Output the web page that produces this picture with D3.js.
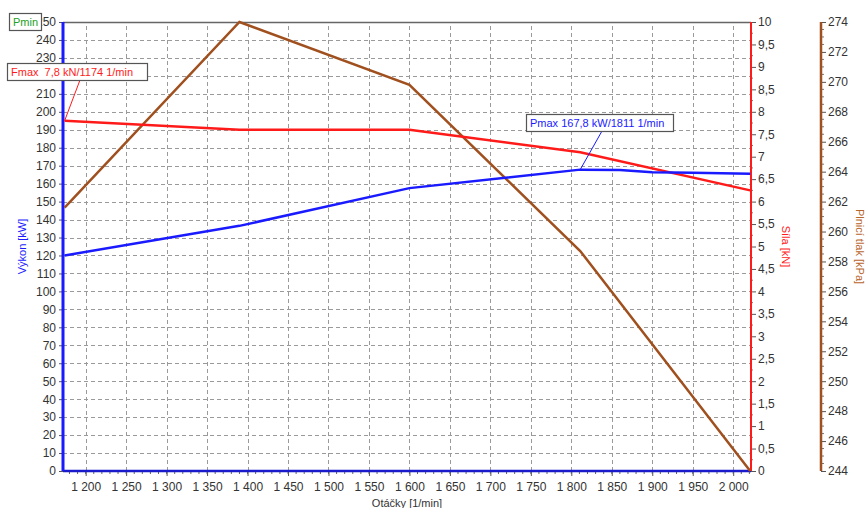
<!DOCTYPE html>
<html>
<head>
<meta charset="utf-8">
<script src="https://cdn.jsdelivr.net/npm/d3@7"></script>
<style>
  body { margin: 0; background: #fff; }
  svg text { font-family: "Liberation Sans", Arial, sans-serif; }
</style>
</head>
<body>
<svg id="chart"></svg>
<script>
// values
var rpm = [1174, 1390, 1600, 1811, 2021];
var forceKN = [7.8, 7.6, 7.6, 7.1, 6.25];
var pressureKPa = [261.6, 274, 269.8, 258.7, 244];

var powerRpm = [1174, 1390, 1600, 1811, 1860, 1900, 1950, 2021];
var powerKW = [120, 136.5, 157.5, 167.8, 167.6, 166.3, 166, 165.5];

var rpmTicks = [1200, 1250, 1300, 1350, 1400, 1450, 1500, 1550, 1600, 1650,
    1700, 1750, 1800, 1850, 1900, 1950, 2000];
var kwTicks = d3.range(0, 251, 10);
var knTicks = d3.range(0, 10.01, 0.5);
var kpaTicks = d3.range(244, 275, 2);

var W = 866, H = 508;
var plotL = 63, plotR = 751, plotT = 22, plotB = 471;
var axis3 = 821;

var blue = '#1a1aff', red = '#ff1a1a', brown = '#a0501e';

var cz = d3.formatLocale({ decimal: ',', thousands: '\u00a0', grouping: [3], currency: ['', ''] });
var fmtRpm = cz.format(',d');
var fmtKn = function (v) { return cz.format('~g')(v); };

var svg = d3.select('svg#chart')
    .attr('width', W)
    .attr('height', H);

var x = d3.scaleLinear().domain([1172, 2022]).range([plotL, plotR]);
var yKw = d3.scaleLinear().domain([0, 250]).range([plotB, plotT]);
var yKn = d3.scaleLinear().domain([0, 10]).range([plotB, plotT]);
var yKpa = d3.scaleLinear().domain([244, 274]).range([plotB, plotT]);

// grid
var grid = svg.append('g')
    .attr('stroke', '#9a9a9a')
    .attr('stroke-width', 1)
    .attr('stroke-dasharray', '4,3');
grid.selectAll('line.h')
    .data(kwTicks.slice(1))
    .enter().append('line')
    .attr('x1', plotL).attr('x2', plotR)
    .attr('y1', function (d) { return Math.round(yKw(d)) + 0.5; })
    .attr('y2', function (d) { return Math.round(yKw(d)) + 0.5; });
grid.selectAll('line.v')
    .data(rpmTicks)
    .enter().append('line')
    .attr('y1', plotB).attr('y2', plotT)
    .attr('x1', function (d) { return Math.round(x(d)) + 0.5; })
    .attr('x2', function (d) { return Math.round(x(d)) + 0.5; });

svg.append('line')
    .attr('x1', plotL).attr('x2', plotR)
    .attr('y1', plotT + 0.5).attr('y2', plotT + 0.5)
    .attr('stroke', '#666').attr('stroke-width', 1.5);

// bottom axis
var xAxis = d3.axisBottom(x).tickValues(rpmTicks).tickFormat(fmtRpm).tickSize(5).tickPadding(6);
var gx = svg.append('g').attr('transform', 'translate(0,' + plotB + ')').call(xAxis);
gx.select('.domain').remove();
gx.selectAll('.tick line').attr('stroke', '#555');
gx.selectAll('.tick text').attr('font-size', 12).attr('fill', '#333');
gx.selectAll('line.minor')
    .data(d3.range(1180, 2021, 10))
    .enter().append('line')
    .attr('x1', function (d) { return x(d); })
    .attr('x2', function (d) { return x(d); })
    .attr('y1', 0).attr('y2', 3)
    .attr('stroke', '#666');
svg.append('line')
    .attr('x1', plotL).attr('x2', plotR)
    .attr('y1', plotB).attr('y2', plotB)
    .attr('stroke', '#1a1acc').attr('stroke-width', 2.5);

// left axis (power)
var yAxisL = d3.axisLeft(yKw).tickValues(kwTicks).tickSize(4).tickPadding(3);
var gl = svg.append('g').attr('transform', 'translate(' + plotL + ',0)').call(yAxisL);
gl.select('.domain').remove();
gl.selectAll('.tick line').attr('stroke', '#555');
gl.selectAll('.tick text').attr('font-size', 12).attr('fill', '#333');
svg.append('line')
    .attr('x1', plotL).attr('x2', plotL)
    .attr('y1', plotT).attr('y2', plotB)
    .attr('stroke', blue).attr('stroke-width', 3);

// right axis (force)
var yAxisR = d3.axisRight(yKn).tickValues(knTicks).tickFormat(fmtKn).tickSize(5).tickPadding(2);
var gr = svg.append('g').attr('transform', 'translate(' + plotR + ',0)').call(yAxisR);
gr.select('.domain').remove();
gr.selectAll('.tick line').attr('stroke', '#555');
gr.selectAll('.tick text').attr('font-size', 12).attr('fill', '#333');
gr.selectAll('line.minor')
    .data(d3.range(0.25, 10, 0.5))
    .enter().append('line')
    .attr('x1', 0).attr('x2', 2)
    .attr('y1', function (d) { return yKn(d); })
    .attr('y2', function (d) { return yKn(d); })
    .attr('stroke', '#777');
svg.append('line')
    .attr('x1', plotR).attr('x2', plotR)
    .attr('y1', plotT).attr('y2', plotB)
    .attr('stroke', red).attr('stroke-width', 2);

// third axis (pressure)
var yAxisP = d3.axisRight(yKpa).tickValues(kpaTicks).tickSize(5).tickPadding(2);
var gp = svg.append('g').attr('transform', 'translate(' + axis3 + ',0)').call(yAxisP);
gp.select('.domain').remove();
gp.selectAll('.tick line').attr('stroke', '#555');
gp.selectAll('.tick text').attr('font-size', 12).attr('fill', '#333');
gp.selectAll('line.minor')
    .data(d3.range(244.5, 274, 0.5).filter(function (d) { return d % 2 !== 0; }))
    .enter().append('line')
    .attr('x1', 0).attr('x2', 3)
    .attr('y1', function (d) { return yKpa(d); })
    .attr('y2', function (d) { return yKpa(d); })
    .attr('stroke', '#777');
svg.append('line')
    .attr('x1', axis3).attr('x2', axis3)
    .attr('y1', plotT).attr('y2', plotB)
    .attr('stroke', brown).attr('stroke-width', 2.5);

// series
var lineKw = d3.line()
    .x(function (d, i) { return x(powerRpm[i]); })
    .y(function (d) { return yKw(d); });
var lineKn = d3.line()
    .x(function (d, i) { return x(rpm[i]); })
    .y(function (d) { return yKn(d); });
var lineKpa = d3.line()
    .x(function (d, i) { return x(rpm[i]); })
    .y(function (d) { return yKpa(d); });

svg.append('path').attr('d', lineKpa(pressureKPa))
    .attr('fill', 'none').attr('stroke', brown).attr('stroke-width', 2.5);
svg.append('path').attr('d', lineKn(forceKN))
    .attr('fill', 'none').attr('stroke', red).attr('stroke-width', 2.5);
svg.append('path').attr('d', lineKw(powerKW))
    .attr('fill', 'none').attr('stroke', blue).attr('stroke-width', 2.5);

// axis titles
var midY = (plotT + plotB) / 2;
svg.append('text')
    .attr('transform', 'translate(26,' + midY + ') rotate(-90)')
    .attr('text-anchor', 'middle')
    .attr('font-size', 11)
    .attr('fill', blue)
    .text('Výkon [kW]');
svg.append('text')
    .attr('transform', 'translate(782,' + midY + ') rotate(90)')
    .attr('text-anchor', 'middle')
    .attr('font-size', 11)
    .attr('fill', red)
    .text('Síla [kN]');
svg.append('text')
    .attr('transform', 'translate(856,' + midY + ') rotate(90)')
    .attr('text-anchor', 'middle')
    .attr('font-size', 11)
    .attr('fill', '#b8652a')
    .text('Plnicí tlak [kPa]');
svg.append('text')
    .attr('x', 407).attr('y', 507)
    .attr('text-anchor', 'middle')
    .attr('font-size', 11)
    .attr('fill', '#333')
    .text('Otáčky [1/min]');

// annotation boxes
var label = function (bx, by, bw, txt, col) {
    var g = svg.append('g');
    g.append('rect')
        .attr('x', bx + 0.5).attr('y', by + 0.5)
        .attr('width', bw).attr('height', 17)
        .attr('fill', '#fff').attr('stroke', '#555').attr('stroke-width', 1.2);
    g.append('text')
        .attr('x', bx + 4).attr('y', by + 13)
        .attr('font-size', 11)
        .attr('fill', col)
        .attr('xml:space', 'preserve')
        .text(txt);
};

svg.append('line')
    .attr('x1', 80).attr('y1', 80)
    .attr('x2', x(rpm[0])).attr('y2', yKn(forceKN[0]))
    .attr('stroke', red).attr('stroke-width', 1);
svg.append('line')
    .attr('x1', 602).attr('y1', 131)
    .attr('x2', x(powerRpm[3])).attr('y2', yKw(powerKW[3]))
    .attr('stroke', blue).attr('stroke-width', 1);

label(7, 63, 140, 'Fmax  7,8 kN/1174 1/min', red);
label(526, 114, 147, 'Pmax 167,8 kW/1811 1/min', blue);
label(9, 13, 32, 'Pmin', '#22a022');
</script>
</body>
</html>
